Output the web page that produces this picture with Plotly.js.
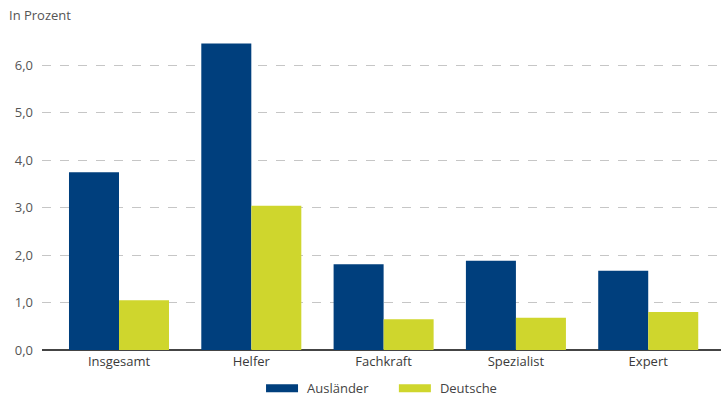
<!DOCTYPE html>
<html>
<head>
<meta charset="utf-8">
<script src="https://cdn.plot.ly/plotly-3.0.1.min.js"></script>
<style>html,body{margin:0;padding:0;background:#fff;}#chart{width:722px;height:405px;}</style>
</head>
<body>
<div id="chart"></div>
<script>
const categories = ["Insgesamt", "Helfer", "Fachkraft", "Spezialist", "Expert"];
const auslaender = [3.75, 6.46, 1.81, 1.88, 1.67];
const deutsche = [1.05, 3.04, 0.65, 0.68, 0.80];
const seriesNames = ["Ausländer", "Deutsche"];
const yTicks = [0, 1, 2, 3, 4, 5, 6];

const font = "'Open Sans', sans-serif";

const traces = [
  {type: "bar", name: seriesNames[0], x: categories, y: auslaender, marker: {color: "#003f7d"}, hoverinfo: "none", legend: "legend"},
  {type: "bar", name: seriesNames[1], x: categories, y: deutsche, marker: {color: "#cfd62d"}, hoverinfo: "none", legend: "legend2"}
];

const legendBase = {orientation: "h", xref: "container", xanchor: "left", yref: "container", y: 0.004, yanchor: "bottom",
  font: {size: 13, color: "#444"}, itemwidth: 40, bgcolor: "rgba(0,0,0,0)"};

const layout = {
  width: 722, height: 405,
  margin: {l: 42, r: 1, t: 18, b: 55, autoexpand: false},
  paper_bgcolor: "#fff", plot_bgcolor: "#fff",
  font: {family: font, size: 13, color: "#555"},
  separators: ",.",
  barmode: "group", bargap: 0.244, bargroupgap: 0,
  xaxis: {
    type: "category", range: [-0.582, 4.55],
    showgrid: false, showline: false, zeroline: false, ticks: "",
    tickfont: {size: 13, color: "#3a3a3a"}, ticklabelstandoff: 2
  },
  yaxis: {
    range: [0, 7], tickvals: yTicks, tickformat: ".1f",
    showgrid: true, gridcolor: "#c6c6c6", griddash: "dash", gridwidth: 1,
    zeroline: true, zerolinecolor: "#444", zerolinewidth: 1.5,
    showline: false, ticks: "", ticklabelstandoff: 8,
    tickfont: {size: 13, color: "#555"}
  },
  showlegend: true,
  legend: Object.assign({}, legendBase, {x: 0.356}),
  legend2: Object.assign({}, legendBase, {x: 0.540}),
  annotations: [{text: "In Prozent", xref: "paper", yref: "paper", x: -0.052, y: 1.009, xanchor: "left", yanchor: "middle", showarrow: false, font: {size: 13, color: "#555"}}]
};

Plotly.newPlot("chart", traces, layout, {displayModeBar: false, staticPlot: true}).then(() => {
  document.querySelectorAll(".legendpoints path").forEach(p => {
    p.setAttribute("d", "M-16,4H16V-4H-16Z");
    p.style.strokeWidth = "0";
  });
});
</script>
</body>
</html>
